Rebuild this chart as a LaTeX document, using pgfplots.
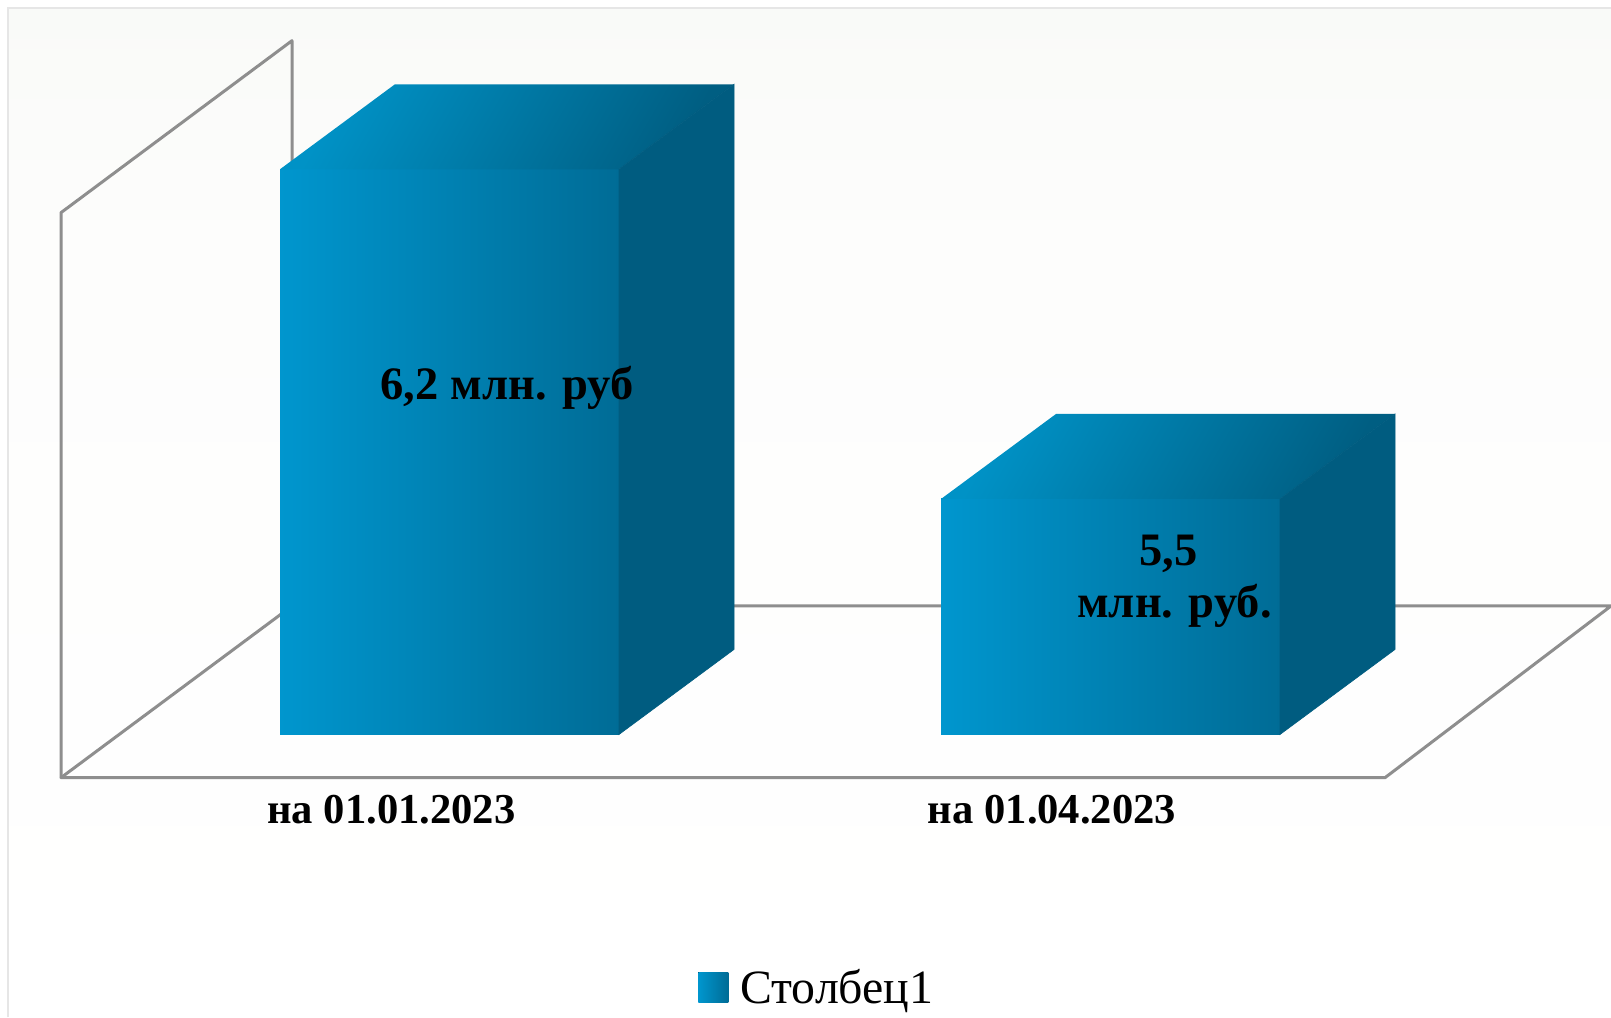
\documentclass[border=0pt]{standalone}
\usepackage{fontspec}
\setmainfont{Liberation Serif}
\usepackage{pgfplots}
\pgfplotsset{compat=1.18}
\definecolor{barL}{HTML}{0096CE}
\definecolor{barR}{HTML}{006C96}
\definecolor{barS}{HTML}{005C80}
\definecolor{topL}{HTML}{0092C6}
\definecolor{topR}{HTML}{005E82}
\definecolor{wallc}{HTML}{8E8E8E}
\definecolor{framec}{HTML}{E6E6E6}
\definecolor{bgA}{HTML}{F9FAF8}
\definecolor{bgB}{HTML}{FDFDFC}
\definecolor{bgC}{HTML}{FFFFFF}
\begin{document}
\begin{tikzpicture}[x=1pt,y=1pt]
\useasboundingbox (0,0) rectangle (1611,1017);
\fill[white] (0,0) rectangle (1611,1017);
\shade[top color=bgA,bottom color=bgB] (7,1009) rectangle (1611,767);
\shade[top color=bgB,bottom color=bgC] (7,767) rectangle (1611,0);
\draw[framec,line width=2.4pt] (8,0) -- (8,1009) -- (1611,1009);
\begin{axis}[
  at={(0,0)},anchor=south west,
  scale only axis,width=1611pt,height=1017pt,
  xmin=0,xmax=1611,ymin=4.40021,ymax=6.55945,
  axis line style={draw=none},
  ytick=\empty,
  xtick={391.5,1052},
  xticklabels={на 01.01.2023,на 01.04.2023},
  major tick length=0pt,
  xtick style={draw=none},
  xticklabel style={font=\fontsize{42.6}{50}\selectfont\bfseries,anchor=base,yshift=193pt,inner sep=0pt},
  legend style={draw=none,fill=none,inner sep=0pt,at={(0.4333,0.0295)},anchor=west,
    font=\fontsize{47.8}{52}\selectfont,legend cell align=left},
  legend image code/.code={
    \path (0pt,0pt) -- (40pt,0pt);
    \fill[left color=barL,right color=barR] (0pt,-15pt) rectangle (30pt,15pt);
  },
]
% wall and floor
\addplot[wallc,line width=3pt,line join=round,forget plot] coordinates
  {(61,4.9083)(61,6.1079)(292,6.4730)(292,5.2728)};
\addplot[wallc,line width=3pt,line join=round,forget plot] coordinates
  {(292,5.2728)(61,4.9083)(1385,4.9083)(1611,5.2728)(292,5.2728)};
% bar 1: value 6.2
\addplot[draw=none,left color=barL,right color=barR] coordinates
  {(280,5)(619,5)(619,6.2)(280,6.2)} --cycle;
\addlegendentry{Столбец1}
\addplot[draw=none,left color=topL,right color=topR,shading angle=60,forget plot] coordinates
  {(280,6.2)(395,6.3805)(734,6.3805)(619,6.2)} --cycle;
\addplot[draw=barS,line width=0.6pt,fill=barS,forget plot] coordinates
  {(619,5)(734,5.1805)(734,6.3805)(619,6.2)} --cycle;
% bar 2: value 5.5
\addplot[draw=none,left color=barL,right color=barR,forget plot] coordinates
  {(941,5)(1280,5)(1280,5.5)(941,5.5)} --cycle;
\addplot[draw=none,left color=topL,right color=topR,shading angle=60,forget plot] coordinates
  {(941,5.5)(1056,5.6805)(1395,5.6805)(1280,5.5)} --cycle;
\addplot[draw=barS,line width=0.6pt,fill=barS,forget plot] coordinates
  {(1280,5)(1395,5.1805)(1395,5.6805)(1280,5.5)} --cycle;
% data labels
\node[font=\fontsize{46.5}{52}\selectfont\bfseries,anchor=base,inner sep=0pt] at (axis cs:507,5.7102) {6,2 млн. руб};
\node[font=\fontsize{46.5}{52}\selectfont\bfseries,anchor=base,inner sep=0pt] at (axis cs:1168.5,5.3598) {5,5};
\node[font=\fontsize{46.5}{52}\selectfont\bfseries,anchor=base,inner sep=0pt] at (axis cs:1174.5,5.2494) {млн. руб.};
\end{axis}
\end{tikzpicture}
\end{document}
